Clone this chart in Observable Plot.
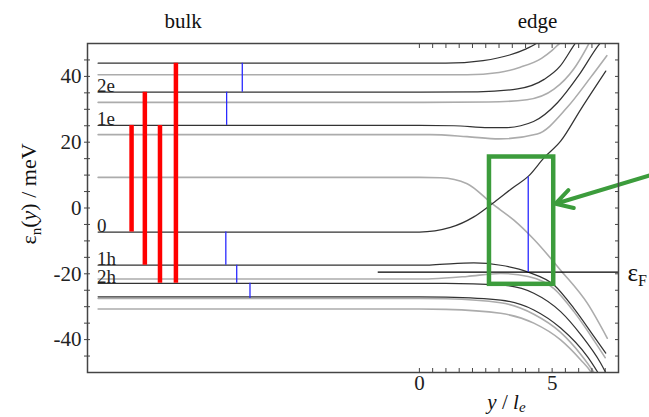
<!DOCTYPE html>
<html><head><meta charset="utf-8">
<script src="https://cdn.jsdelivr.net/npm/d3@7"></script>
<script src="https://cdn.jsdelivr.net/npm/@observablehq/plot@0.6"></script>
<style>html,body{margin:0;padding:0;background:#fff}svg{display:block}svg text{font-family:"Liberation Serif","Times New Roman",serif !important}</style>
</head><body><div id="chart"></div>
<script>
// ---- data (x = y/l_e, y = energy in meV) ----
const xDomain = [-12.5, 7.5];
const yDomain = [-50, 50];
const yTickLabels = [-40, -20, 0, 20, 40];
const yMinorTicks = d3.range(-45, 50, 5);
const xTickLabels = [0, 5];
const xMinorTicks = [0, 0.5, 1, 1.5, 2, 2.5, 3, 3.5, 4, 4.5, 5, 5.5, 6, 6.5, 7, 7.5];

// subband dispersions: dark (one spin block) and gray (other)
const dark44 = [[-12.1,44.0],[0,44.0],[1.0,44.0],[2.4,44.8],[3.4,46.5],[4.0,48.3],[4.4,50.0],[4.65,51.5]];
const dark35 = [[-12.1,35.2],[0,35.2],[2.2,35.3],[3.7,36.2],[4.7,39.1],[5.3,43.1],[5.8,49.2],[5.95,51.0]];
const dark25 = [[-12.1,25.1],[0,25.1],[1.3,25.0],[2.6,24.4],[3.2,24.4],[4.3,26.3],[5.2,32.0],[6.0,40.3],[6.75,49.5],[6.9,51.0]];
const dark0  = [[-12.1,-7.3],[0,-7.3],[1.17,-5.9],[2.05,-2.7],[2.74,1.3],[3.56,6.4],[4.1,9.6],[4.7,15.3],[5.32,20.3],[6.08,30.0],[7.02,41.6]];
const dark1h = [[-12.1,-17.4],[0,-17.4],[0.5,-17.3],[2.05,-16.7],[3.06,-17.4],[4.1,-19.5],[5.07,-23.4],[5.82,-30.5],[6.58,-39.1],[7.02,-44.1]];
const dark2h = [[-12.1,-22.9],[0,-22.9],[1.0,-22.9],[3.06,-23.4],[4.31,-25.9],[5.32,-31.5],[6.08,-38.5],[6.83,-47.2],[7.05,-50.5]];
const dark3h = [[-12.1,-27.0],[0,-27.0],[1.0,-27.1],[3.06,-28.0],[4.31,-31.0],[5.32,-36.5],[6.33,-45.2],[6.7,-49.7],[6.8,-51.0]];

const gray40 = [[-12.1,40.5],[0,40.5],[1.8,40.5],[3.0,41.2],[3.8,42.8],[4.6,45.5],[5.0,47.9],[5.3,50.2],[5.5,51.6]];
const gray32 = [[-12.1,32.1],[0,32.1],[2.6,32.2],[4.05,32.9],[5.07,36.1],[5.8,42.1],[6.3,48.7],[6.45,51.0]];
const gray22 = [[-12.1,22.3],[0,22.3],[0.4,22.3],[1.8,21.7],[3.0,21.0],[4.44,22.5],[5.57,30.6],[6.45,39.7],[7.06,46.3]];
const gray9  = [[-12.1,9.3],[0,9.3],[0.8,9.2],[1.8,7.4],[2.74,1.3],[3.56,-3.7],[4.31,-9.5],[5.32,-18.9],[6.33,-29.0],[7.08,-39.6]];
const gray21 = [[-12.1,-21.6],[0,-21.6],[0.5,-21.5],[1.8,-20.8],[3.06,-19.9],[4.1,-20.8],[5.07,-24.5],[5.82,-31.5],[6.58,-40.3],[7.0,-45.5]];
const gray27 = [[-12.1,-27.5],[0,-27.5],[1.0,-27.6],[3.06,-28.8],[4.31,-32.3],[5.32,-37.8],[6.08,-44.5],[6.55,-49.7],[6.65,-51.0]];
const gray30 = [[-12.1,-30.7],[0,-30.7],[1.0,-30.8],[3.06,-32.0],[4.31,-35.0],[5.32,-40.1],[6.08,-46.2],[6.45,-49.7],[6.55,-51.0]];

// bulk transitions (red = strong, blue = weak)
const redX    = [-10.84, -10.34, -9.77, -9.17];
const redLow  = [-7.3, -17.4, -22.9, -22.9];
const redHigh = [25.1, 35.2, 25.1, 44.0];
const blueX    = [-6.67, -7.26, -7.29, -6.88, -6.38, 4.1];
const blueLow  = [35.2, 25.1, -17.4, -22.9, -27.5, -19.5];
const blueHigh = [44.0, 35.2, -7.3, -17.4, -22.9, 9.4];

// subband labels
const levelNames  = ["2e", "1e", "0", "1h", "2h"];
const levelValues = [35.2, 25.1, -7.3, -17.4, -22.9];
const levelLabelX = -12.1;

// Fermi level
const fermiLevel = -19.5;
const fermiStart = -1.55;

// highlight box + arrow
const boxX = [2.64, 5.06];
const boxY = [-23.2, 15.5];
const arrowFrom = [9.0, 10.7];
const arrowTo = [5.13, 1.3];

// region headers
const headerNames = ["bulk", "edge"];
const headerX = [-8.9, 4.45];

// ---- build tables ----
const toRows = (curves) => curves.flatMap((c, i) => c.map(([x, y]) => ({id: i, x, y})));
const darkRows = toRows([dark44, dark35, dark25, dark0, dark1h, dark2h, dark3h]);
const grayRows = toRows([gray40, gray32, gray22, gray9, gray21, gray27, gray30]);
const redRows = redX.map((x, i) => ({x, y1: redLow[i], y2: redHigh[i]}));
const blueRows = blueX.map((x, i) => ({x, y1: blueLow[i], y2: blueHigh[i]}));
const labelRows = levelNames.map((t, i) => ({t, x: levelLabelX, y: levelValues[i]}));
const headerRows = headerNames.map((t, i) => ({t, x: headerX[i]}));

const green = "#3c9c3c";
const FS = 20;

const chart = Plot.plot({
  width: 649, height: 417,
  marginTop: 43, marginRight: 31, marginBottom: 45, marginLeft: 87,
  x: {domain: xDomain},
  y: {domain: yDomain},
  style: {fontFamily: "Liberation Serif, serif", fontSize: FS + "px", background: "#fff", color: "#222", overflow: "visible"},
  marks: [
    Plot.line(grayRows, {x: "x", y: "y", z: "id", stroke: "#acacac", strokeWidth: 1.6, curve: "monotone-x", clip: true}),
    Plot.line(darkRows, {x: "x", y: "y", z: "id", stroke: "#333333", strokeWidth: 1.25, curve: "monotone-x", clip: true}),
    Plot.ruleY([fermiLevel], {x1: fermiStart, x2: xDomain[1], stroke: "#000", strokeWidth: 1.2}),
    Plot.ruleX(redRows, {x: "x", y1: "y1", y2: "y2", stroke: "#ff0000", strokeWidth: 4.5}),
    Plot.ruleX(blueRows, {x: "x", y1: "y1", y2: "y2", stroke: "#2a2aff", strokeWidth: 1.3}),
    Plot.rect([0], {x1: () => boxX[0], x2: () => boxX[1], y1: () => boxY[0], y2: () => boxY[1], fill: "none", stroke: green, strokeWidth: 4.5}),
    Plot.arrow([0], {x1: () => arrowFrom[0], y1: () => arrowFrom[1], x2: () => arrowTo[0], y2: () => arrowTo[1], stroke: green, strokeWidth: 4, headAngle: 60, headLength: 7}),
    Plot.frame({stroke: "#444", strokeWidth: 1.5}),
    // axes
    Plot.axisY({ticks: yTickLabels, tickSize: 0, tickPadding: 6, tickFormat: d => String(d), fontSize: 21, label: null}),
    Plot.axisY({ticks: yMinorTicks, tickSize: 6, dx: 3, tickFormat: () => "", label: null, stroke: "#444"}),
    Plot.axisY({anchor: "right", ticks: yMinorTicks, tickSize: 4, dx: -4, tickFormat: () => "", label: null, stroke: "#444"}),
    Plot.axisX({ticks: xTickLabels, tickSize: 0, tickPadding: 3, tickFormat: d => String(d), fontSize: 21, label: null}),
    Plot.axisX({ticks: xMinorTicks, tickSize: 4, dy: -4, tickFormat: () => "", label: null, stroke: "#444"}),
    Plot.axisX({anchor: "top", ticks: xMinorTicks, tickSize: 4, dy: 4, tickFormat: () => "", label: null, stroke: "#444"}),
    // texts
    Plot.text(labelRows, {x: "x", y: "y", text: "t", textAnchor: "start", lineAnchor: "middle", dy: -6.3, dx: -1, fontSize: 19, fill: "#222"}),
    Plot.text(headerRows, {x: "x", text: "t", frameAnchor: "top", textAnchor: "middle", lineAnchor: "middle", dy: -22, fontSize: 21, fill: "#111"}),
    Plot.text(["__EF__"], {x: () => xDomain[1], y: () => fermiLevel, text: d => d, textAnchor: "start", lineAnchor: "middle", dx: 9, dy: 1, fontSize: 25, fill: "#111"}),
    Plot.text(["__YLAB__"], {text: d => d, frameAnchor: "left", textAnchor: "middle", rotate: -90, lineAnchor: "middle", dx: -59, dy: -14, fontSize: 22, fill: "#111"}),
    Plot.text(["__XLAB__"], {x: () => 3.28, text: d => d, frameAnchor: "bottom", textAnchor: "middle", lineAnchor: "middle", dy: 30, fontSize: 21, fill: "#111"})
  ]
});

// rich text (subscripts / italics)
chart.querySelectorAll("text").forEach(t => {
  const s = t.textContent;
  if (s === "__EF__") t.innerHTML = 'ε<tspan font-size="16" dy="5">F</tspan>';
  else if (s === "__YLAB__") t.innerHTML = 'ε<tspan font-size="15" dy="5">n</tspan><tspan dy="-5">(</tspan><tspan font-style="italic">y</tspan>) / meV';
  else if (s === "__XLAB__") t.innerHTML = '<tspan font-style="italic">y</tspan> / <tspan font-style="italic">l</tspan><tspan font-style="italic" font-size="15" dy="3">e</tspan>';
});

document.getElementById("chart").appendChild(chart);
</script>
</body></html>
